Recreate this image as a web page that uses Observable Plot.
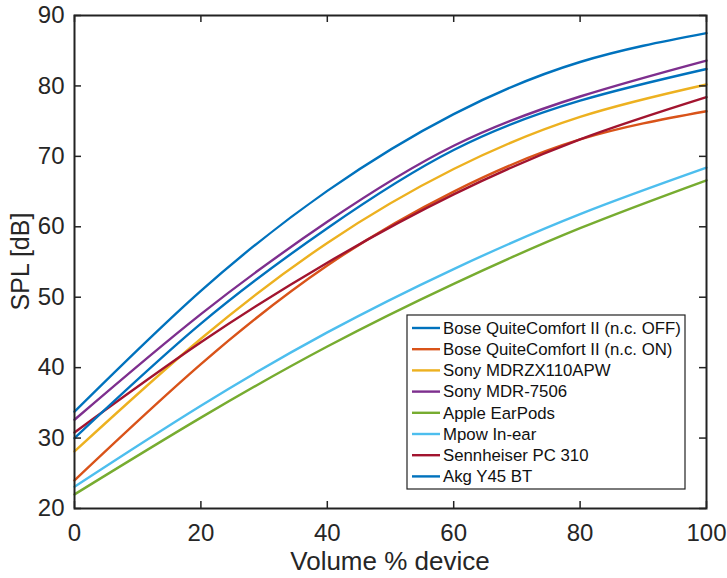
<!DOCTYPE html>
<html><head><meta charset="utf-8">
<script src="https://cdn.jsdelivr.net/npm/d3@7"></script>
<script src="https://cdn.jsdelivr.net/npm/@observablehq/plot@0.6"></script>
<style>body{margin:0;background:#fff;}</style>
</head><body><div id="chart"></div>
<script>
const volume = [0, 20, 40, 60, 80, 100];
const seriesNames = [
  "Bose QuiteComfort II (n.c. OFF)",
  "Bose QuiteComfort II (n.c. ON)",
  "Sony MDRZX110APW",
  "Sony MDR-7506",
  "Apple EarPods",
  "Mpow In-ear",
  "Sennheiser PC 310",
  "Akg Y45 BT"
];
const seriesColors = ["#0072BD", "#D95319", "#EDB120", "#7E2F8E", "#77AC30", "#4DBEEE", "#A2142F", "#0072BD"];
const boseOff   = [33.75, 50.9, 65.1, 76.0, 83.4, 87.5];
const boseOn    = [24.0, 40.5, 54.5, 65.0, 72.4, 76.4];
const sonyZX    = [28.1, 44.1, 57.7, 68.2, 75.6, 80.2];
const sony7506  = [32.6, 47.6, 60.7, 71.5, 78.5, 83.6];
const earPods   = [22.0, 32.9, 43.0, 51.9, 59.8, 66.6];
const mpow      = [23.1, 34.6, 45.0, 54.0, 61.8, 68.4];
const senn      = [30.8, 43.6, 54.9, 64.6, 72.4, 78.4];
const akg       = [30.0, 46.25, 59.8, 70.9, 77.9, 82.4];
const xTicks = [0, 20, 40, 60, 80, 100];
const yTicks = [20, 30, 40, 50, 60, 70, 80, 90];
const xLabel = "Volume % device";
const yLabel = "SPL [dB]";

const allSeries = [boseOff, boseOn, sonyZX, sony7506, earPods, mpow, senn, akg];
const rows = [];
allSeries.forEach((vals, i) => vals.forEach((v, j) => rows.push({series: seriesNames[i], idx: i, x: volume[j], y: v})));

const W = 727, H = 578, mL = 74, mR = 21, mT = 15, mB = 70;
const ph = H - mT - mB, pw = W - mL - mR;
const font = "'Liberation Sans', Arial, Helvetica, sans-serif";
const tk = 7;

const chart = Plot.plot({
  width: W, height: H,
  marginLeft: mL, marginRight: mR, marginTop: mT, marginBottom: mB,
  style: {fontFamily: font, fontSize: "24px", color: "#262626", background: "#fff"},
  x: {domain: [0, 100]},
  y: {domain: [20, 90]},
  marks: [
    Plot.line(rows, {x: "x", y: "y", z: "series", stroke: d => seriesColors[d.idx], strokeWidth: 2.4, curve: "natural"}),
    Plot.tickX(xTicks, {x: d => d, insetTop: ph - tk, stroke: "#222", strokeWidth: 1.5}),
    Plot.tickX(xTicks, {x: d => d, insetBottom: ph - tk, stroke: "#222", strokeWidth: 1.5}),
    Plot.tickY(yTicks, {y: d => d, insetRight: pw - tk, stroke: "#222", strokeWidth: 1.5}),
    Plot.tickY(yTicks, {y: d => d, insetLeft: pw - tk, stroke: "#222", strokeWidth: 1.5}),
    Plot.axisX(xTicks, {tickSize: 0, tickPadding: 15, label: null, fontSize: 24}),
    Plot.axisY(yTicks, {tickSize: 0, tickPadding: 10, label: null, fontSize: 24}),
    Plot.frame({stroke: "#222", strokeWidth: 2})
  ]
});
document.getElementById("chart").appendChild(chart);

const svg = d3.select(chart);
// axis titles
svg.append("text").attr("x", mL + pw / 2).attr("y", 561).attr("dy", "0.35em")
  .attr("text-anchor", "middle").attr("font-family", font).attr("font-size", 26).attr("fill", "#262626").text(xLabel);
svg.append("text").attr("transform", `translate(20,${mT + ph / 2}) rotate(-90)`).attr("dy", "0.35em")
  .attr("text-anchor", "middle").attr("font-family", font).attr("font-size", 25).attr("fill", "#262626").text(yLabel);

// legend
const lg = svg.append("g").attr("font-family", font).attr("font-size", 16.8).attr("text-anchor", "start");
const bx = 407, by = 315, bw = 278, bh = 174, r0 = 328, dr = 21.2;
lg.append("rect").attr("x", bx).attr("y", by).attr("width", bw).attr("height", bh).attr("fill", "#fff").attr("stroke", "#222").attr("stroke-width", 1.2);
seriesNames.forEach((name, i) => {
  const yy = r0 + i * dr;
  lg.append("line").attr("x1", 412).attr("x2", 440).attr("y1", yy).attr("y2", yy).attr("stroke", seriesColors[i]).attr("stroke-width", 2.4);
  lg.append("text").attr("x", 443).attr("y", yy).attr("dy", "0.35em").attr("fill", "#111").text(name);
});
</script>
</body></html>
